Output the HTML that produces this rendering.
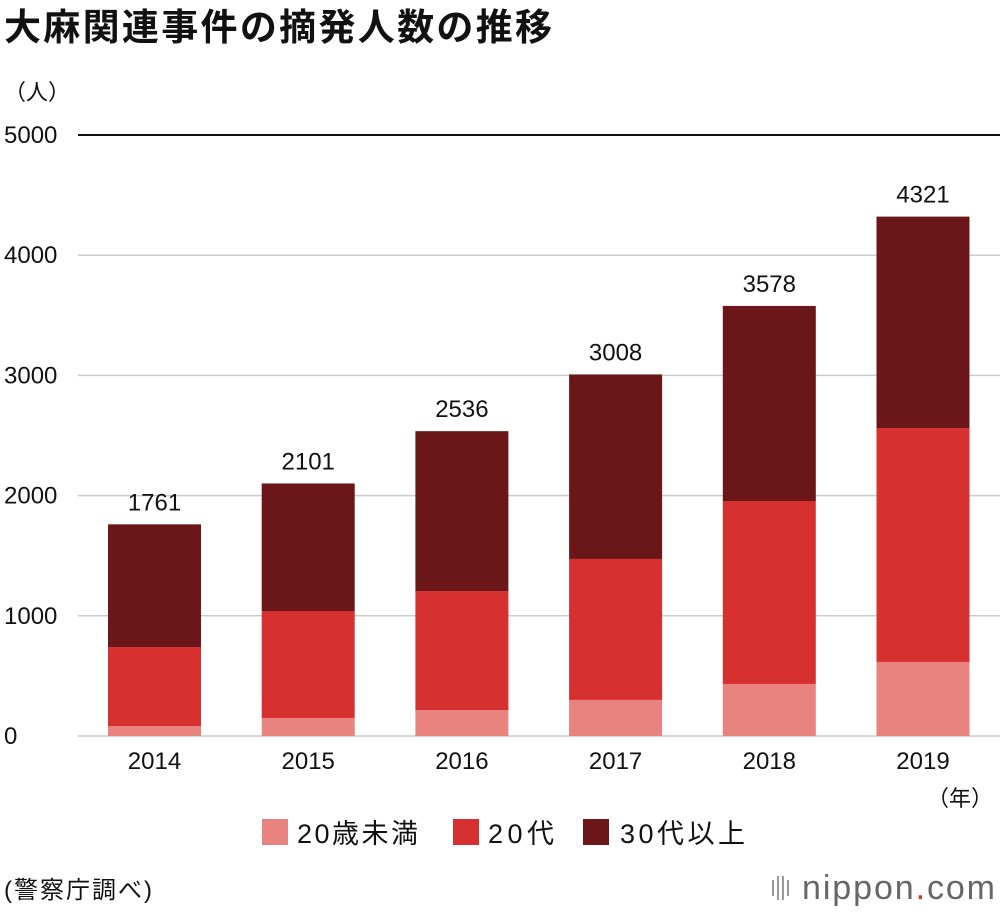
<!DOCTYPE html>
<html><head><meta charset="utf-8">
<style>
body{margin:0;background:#fff;width:1000px;height:910px;overflow:hidden;font-family:"Liberation Sans","Noto Sans CJK JP",sans-serif;}
</style></head><body>
<svg id="chart" width="1000" height="910" xmlns="http://www.w3.org/2000/svg" font-family="Liberation Sans, Noto Sans CJK JP, sans-serif">
<text x="4" y="40" font-size="37" font-weight="bold" fill="#111" textLength="548">大麻関連事件の摘発人数の推移</text>
<text x="4" y="100" font-size="22" fill="#111">（人）</text>
<g id="grid"></g>
<g id="bars"></g>
<text x="993" y="806" font-size="22" text-anchor="end" fill="#111">（年）</text>
<g>
<rect x="262" y="819" width="26" height="26" fill="#e8837f"/>
<text x="297" y="843" font-size="27" fill="#111" textLength="121">20歳未満</text>
<rect x="453" y="819" width="26" height="26" fill="#d63031"/>
<text x="488" y="843" font-size="27" fill="#111" textLength="66">20代</text>
<rect x="583" y="819" width="26" height="26" fill="#6b1719"/>
<text x="620" y="843" font-size="27" fill="#111" textLength="125">30代以上</text>
</g>
<text x="4" y="898" font-size="24" fill="#111" textLength="148">(警察庁調べ)</text>
<g fill="#999">
<rect x="772" y="880" width="2" height="16"/><rect x="777" y="876" width="2" height="24"/><rect x="782" y="876" width="2" height="24"/><rect x="787" y="880" width="2" height="16"/>
<text x="995" y="899" font-size="34" text-anchor="end" fill="#666" textLength="193">nippon<tspan fill="#d63031">.</tspan>com</text>
</g>
<script>
const years=["2014","2015","2016","2017","2018","2019"];
const under20=[83,150,216,300,433,616];
const twenties=[657,890,990,1173,1522,1946];
const totals=[1761,2101,2536,3008,3578,4321];
const yTicks=[0,1000,2000,3000,4000,5000];
const NS="http://www.w3.org/2000/svg";
const y0=736,yTop=135,yMax=5000;
function yS(v){return y0-(v/yMax)*(y0-yTop);}
function xC(i){return 154.5+i*153.7;}
const bw=93;
const grid=document.getElementById('grid'),bars=document.getElementById('bars');
function mk(tag,attrs,parent){const e=document.createElementNS(NS,tag);for(const k in attrs)e.setAttribute(k,attrs[k]);parent.appendChild(e);return e;}
yTicks.forEach((t)=>{
  const l=mk('line',{x1:78,x2:1000,y1:yS(t),y2:yS(t),stroke:t===5000?'#111':'#ccc','stroke-width':t===5000?2:1.5},grid);
  
  
  const tx=mk('text',{x:4,y:yS(t)+8,'font-size':24,fill:'#111'},grid);
  tx.textContent=t;
  
  
});
years.forEach((yr,i)=>{
  const x=xC(i)-bw/2;
  const segs=[[0,under20[i],'#e8837f','under20'],[under20[i],under20[i]+twenties[i],'#d63031','20s'],[under20[i]+twenties[i],totals[i],'#6b1719','30plus']];
  segs.forEach(s=>{
    const r=mk('rect',{x:x,y:yS(s[1]),width:bw,height:yS(s[0])-yS(s[1]),fill:s[2]},bars);
    
    
  });
  const lb=mk('text',{x:xC(i),y:yS(totals[i])-14,'font-size':24,'text-anchor':'middle',fill:'#111'},bars);
  lb.textContent=totals[i];
  
  
  const xl=mk('text',{x:xC(i),y:769,'font-size':24,'text-anchor':'middle',fill:'#111'},bars);
  xl.textContent=yr;
  
  
});
</script>
</svg>
</body></html>
